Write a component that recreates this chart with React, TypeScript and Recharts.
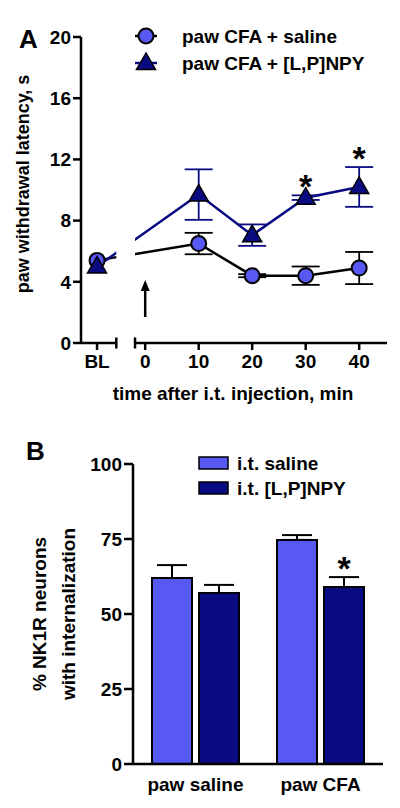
import React from "react";
import {
  ComposedChart,
  Line,
  XAxis,
  YAxis,
  ErrorBar,
  ReferenceLine,
  ReferenceArea,
  ReferenceDot,
  BarChart,
  Bar,
  LabelList,
  Customized,
} from "recharts";

// ---------- Panel A data ----------
const timeLabels = ["BL", "10", "20", "30", "40"];
const timeMinutes = [null, 10, 20, 30, 40]; // BL placed before the axis break
const salineMean = [5.4, 6.5, 4.4, 4.4, 4.9];
const salineSem = [null, 0.7, 0.1, 0.6, 1.05];
const npyMean = [5.0, 9.7, 7.05, 9.5, 10.2];
const npySem = [null, 1.65, 0.7, 0.15, 1.3];
const npySig = [false, false, false, true, true];
const latencyTicks = [0, 4, 8, 12, 16, 20];
const timeTicks = [0, 10, 20, 30, 40];
const seriesA = ["paw CFA + saline", "paw CFA + [L,P]NPY"];

// ---------- Panel B data ----------
const groups = ["paw saline", "paw CFA"];
const itSalineMean = [62, 74.7];
const itSalineSem = [4.3, 1.6];
const itNpyMean = [57, 59];
const itNpySem = [2.7, 3.3];
const itNpySig = [false, true];
const pctTicks = [0, 25, 50, 75, 100];
const seriesB = ["i.t. saline", "i.t. [L,P]NPY"];

// ---------- style ----------
const FONT = "'Liberation Sans', Arial, Helvetica, sans-serif";
const LIGHT = "#5858f2";
const NAVY = "#0a0a82";
const BL_POS = -9;
const X_MIN = -12;
const X_MAX = 45.2;
const BREAK_L = -5.4;
const BREAK_R = -1.9;

const dataA = timeLabels.map((lab, i) => ({
  t: timeMinutes[i] === null ? BL_POS : timeMinutes[i],
  saline: salineMean[i],
  salineErr: salineSem[i] == null ? undefined : salineSem[i],
  npy: npyMean[i],
  npyErr: npySem[i] == null ? undefined : npySem[i],
}));

const dataB = groups.map((g, i) => ({
  g,
  sal: itSalineMean[i],
  salErr: [0, itSalineSem[i]],
  npy: itNpyMean[i],
  npyErr: [0, itNpySem[i]],
}));

const tickStyle = { fontFamily: FONT, fontSize: 19, fontWeight: "bold", fill: "#000" };

const Triangle = (props: any) => {
  const { cx, cy } = props;
  if (cx == null || cy == null) return null;
  return (
    <path
      d={`M${cx},${cy - 10} L${cx - 9.5},${cy + 6.5} L${cx + 9.5},${cy + 6.5} Z`}
      fill={NAVY}
      stroke="#000"
      strokeWidth={1.5}
    />
  );
};

const Circle = (props: any) => {
  const { cx, cy } = props;
  if (cx == null || cy == null) return null;
  return <circle cx={cx} cy={cy} r={7.5} fill={LIGHT} stroke="#000" strokeWidth={2} />;
};

const ArrowShape = (props: any) => {
  const { x1, y1, x2, y2 } = props;
  const bottom = Math.max(y1, y2);
  const tip = Math.min(y1, y2);
  return (
    <g>
      <line x1={x1} y1={bottom} x2={x2} y2={tip + 8} stroke="#000" strokeWidth={2.5} />
      <path d={`M${x1},${tip} L${x1 - 4.5},${tip + 11} L${x1 + 4.5},${tip + 11} Z`} fill="#000" />
    </g>
  );
};

const starLabel = (props: any) => {
  const vb = props.viewBox || props;
  const x = vb.x + (vb.width || 0) / 2;
  const y = vb.y;
  return (
    <text x={x} y={y + 3} textAnchor="middle" fontFamily={FONT} fontWeight="bold" fontSize={34} fill="#000">
      *
    </text>
  );
};

const LegendA = () => (
  <g transform="translate(130,22)">
    <line x1={5} y1={14} x2={27} y2={14} stroke="#000" strokeWidth={2.5} />
    <circle cx={16} cy={14} r={7.5} fill={LIGHT} stroke="#000" strokeWidth={2} />
    <text x={52} y={14} dominantBaseline="central" {...(tickStyle as any)}>
      {seriesA[0]}
    </text>
    <line x1={5} y1={41} x2={27} y2={41} stroke={NAVY} strokeWidth={2.5} />
    <path d={`M16,${41 - 10} L${16 - 9.5},${41 + 6.5} L${16 + 9.5},${41 + 6.5} Z`} fill={NAVY} stroke="#000" strokeWidth={1.5} />
    <text x={52} y={41} dominantBaseline="central" {...(tickStyle as any)}>
      {seriesA[1]}
    </text>
  </g>
);

const LegendB = () => (
  <g transform="translate(195,40)">
    <rect x={4} y={7} width={29} height={12} fill={LIGHT} stroke="#000" strokeWidth={1.5} />
    <text x={42} y={13} dominantBaseline="central" {...(tickStyle as any)}>
      {seriesB[0]}
    </text>
    <rect x={4} y={32} width={29} height={12} fill={NAVY} stroke="#000" strokeWidth={1.5} />
    <text x={42} y={38} dominantBaseline="central" {...(tickStyle as any)}>
      {seriesB[1]}
    </text>
  </g>
);

const barStar = (props: any) => {
  const { index } = props;
  if (!itNpySig[index]) return null;
  const vb = props.viewBox || props;
  const x = vb.x;
  const y = vb.y;
  const w = vb.width;
  const h = vb.height;
  const v = itNpyMean[index];
  const errPx = (itNpySem[index] * h) / v;
  return (
    <text x={x + w / 2} y={y - errPx + 3} textAnchor="middle" fontFamily={FONT} fontWeight="bold" fontSize={34} fill="#000">
      *
    </text>
  );
};

export default function App() {
  return (
    <div style={{ position: "absolute", left: 0, top: 0, width: 400, height: 808, background: "#fff" }}>
      {/* Panel A */}
      <div style={{ position: "absolute", left: 0, top: 0 }}>
        <ComposedChart width={400} height={410} data={dataA} margin={{ top: 37, right: 13, bottom: 37, left: 0 }}>
          <XAxis
            dataKey="t"
            type="number"
            height={30}
            domain={[X_MIN, X_MAX]}
            allowDataOverflow
            ticks={[BL_POS, ...timeTicks]}
            interval={0}
            tickFormatter={(v: number) => (v === BL_POS ? timeLabels[0] : String(v))}
            axisLine={false}
            tickLine={{ stroke: "#000", strokeWidth: 2.5 }}
            tickSize={7}
            tickMargin={5}
            tick={tickStyle}
          />
          <YAxis
            type="number"
            domain={[0, 20]}
            ticks={latencyTicks}
            interval={0}
            width={81}
            axisLine={{ stroke: "#000", strokeWidth: 2.5 }}
            tickLine={{ stroke: "#000", strokeWidth: 2.5 }}
            tickSize={8}
            tickMargin={2}
            tick={tickStyle}
          />
          <Line
            dataKey="saline"
            stroke="#000"
            strokeWidth={2.5}
            dot={<Circle />}
            activeDot={false}
            isAnimationActive={false}
          >
            <ErrorBar dataKey="salineErr" direction="y" width={14} stroke="#000" strokeWidth={1.8} />
          </Line>
          <Line
            dataKey="npy"
            stroke={NAVY}
            strokeWidth={2.5}
            dot={<Triangle />}
            activeDot={false}
            isAnimationActive={false}
          >
            <ErrorBar dataKey="npyErr" direction="y" width={14} stroke={NAVY} strokeWidth={1.8} />
          </Line>
          <ReferenceArea
            x1={BREAK_L}
            x2={BREAK_R}
            y1={0.3}
            y2={20}
            fill="#fff"
            fillOpacity={1}
            stroke="none"
            ifOverflow="visible"
            zIndex={1500}
          />
          <ReferenceLine
            segment={[{ x: X_MIN, y: 0 }, { x: BREAK_L, y: 0 }]}
            stroke="#000"
            strokeWidth={2.5}
            ifOverflow="visible"
            zIndex={1600}
          />
          <ReferenceLine
            segment={[{ x: BREAK_R, y: 0 }, { x: X_MAX, y: 0 }]}
            stroke="#000"
            strokeWidth={2.5}
            ifOverflow="visible"
            zIndex={1600}
          />
          <ReferenceLine
            segment={[{ x: BREAK_L, y: -0.36 }, { x: BREAK_L, y: 0.36 }]}
            stroke="#000"
            strokeWidth={2.5}
            ifOverflow="visible"
            zIndex={1600}
          />
          <ReferenceLine
            segment={[{ x: BREAK_R, y: -0.36 }, { x: BREAK_R, y: 0.36 }]}
            stroke="#000"
            strokeWidth={2.5}
            ifOverflow="visible"
            zIndex={1600}
          />
          <ReferenceLine
            segment={[{ x: 0, y: 1.7 }, { x: 0, y: 4.12 }]}
            shape={ArrowShape}
            ifOverflow="visible"
            zIndex={1600}
          />
          {timeLabels.map((lab, i) =>
            npySig[i] ? (
              <ReferenceDot
                key={lab}
                x={dataA[i].t}
                y={npyMean[i] + (npySem[i] || 0)}
                r={0}
                fill="none"
                stroke="none"
                ifOverflow="visible"
                label={starLabel}
                zIndex={1600}
              />
            ) : null
          )}
          <Customized
            component={() => (
              <g>
                <LegendA />
                <text x={19} y={48} fontFamily={FONT} fontWeight="bold" fontSize={26} fill="#000">
                  A
                </text>
                <text
                  x={0}
                  y={0}
                  transform="translate(23,184) rotate(-90)"
                  textAnchor="middle"
                  dominantBaseline="central"
                  fontFamily={FONT}
                  fontWeight="bold"
                  fontSize={18}
                  fill="#000"
                >
                  paw withdrawal latency, s
                </text>
                <text x={233} y={393} textAnchor="middle" dominantBaseline="central" {...(tickStyle as any)}>
                  time after i.t. injection, min
                </text>
              </g>
            )}
          />
        </ComposedChart>
      </div>

      {/* Panel B */}
      <div style={{ position: "absolute", left: 0, top: 410 }}>
        <BarChart
          width={400}
          height={398}
          data={dataB}
          margin={{ top: 54, right: 17, bottom: 14, left: 0 }}
          barSize={40}
          barGap={7}
        >
          <XAxis
            dataKey="g"
            height={30}
            axisLine={{ stroke: "#000", strokeWidth: 2.5 }}
            tickLine={false}
            tickMargin={8}
            tick={tickStyle}
          />
          <YAxis
            type="number"
            domain={[0, 100]}
            ticks={pctTicks}
            interval={0}
            width={133}
            axisLine={{ stroke: "#000", strokeWidth: 2.5 }}
            tickLine={{ stroke: "#000", strokeWidth: 2.5 }}
            tickSize={9}
            tickMargin={2}
            tick={tickStyle}
          />
          <Bar dataKey="sal" fill={LIGHT} stroke="#000" strokeWidth={2} isAnimationActive={false}>
            <ErrorBar dataKey="salErr" direction="y" width={15} stroke="#000" strokeWidth={2} />
          </Bar>
          <Bar dataKey="npy" fill={NAVY} stroke="#000" strokeWidth={2} isAnimationActive={false}>
            <ErrorBar dataKey="npyErr" direction="y" width={15} stroke="#000" strokeWidth={2} />
            <LabelList dataKey="npy" content={barStar} />
          </Bar>
          <Customized
            component={() => (
              <g>
                <LegendB />
                <text x={26} y={50} fontFamily={FONT} fontWeight="bold" fontSize={26} fill="#000">
                  B
                </text>
                <text
                  x={0}
                  y={0}
                  transform="translate(39,204) rotate(-90)"
                  textAnchor="middle"
                  dominantBaseline="central"
                  {...(tickStyle as any)}
                >
                  % NK1R neurons
                </text>
                <text
                  x={0}
                  y={0}
                  transform="translate(68,204) rotate(-90)"
                  textAnchor="middle"
                  dominantBaseline="central"
                  {...(tickStyle as any)}
                >
                  with internalization
                </text>
              </g>
            )}
          />
        </BarChart>
      </div>
    </div>
  );
}
